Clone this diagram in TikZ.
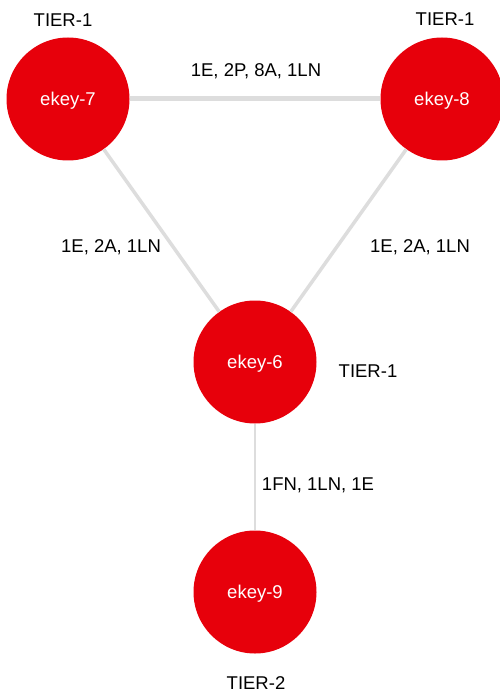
\documentclass[tikz,border=0pt]{standalone}
\usepackage{fontspec}
\setmainfont{Liberation Sans}
\definecolor{keyred}{RGB}{231,0,11}
\definecolor{linkgray}{RGB}{221,221,221}
\tikzset{
  ekey/.style={circle,fill=keyred,text=white,minimum size=123pt,inner sep=0pt,text depth=0pt},
  link/.style={draw=linkgray},
  txt/.style={anchor=base,inner sep=0pt}
}
\begin{document}
\begin{tikzpicture}[x=1pt,y=-1pt,font=\fontsize{18.5}{21}\selectfont]
  \useasboundingbox (0,0) rectangle (499,692);

  \node[ekey] (e7) at (68,99) {ekey-7};
  \node[ekey] (e8) at (442,99) {ekey-8};
  \node[ekey] (e6) at (255,362) {ekey-6};
  \node[ekey] (e9) at (255,592) {ekey-9};

  \draw[link,line width=5pt] (e7) -- (e8);
  \draw[link,line width=3.5pt] (e7) -- (e6);
  \draw[link,line width=3.5pt] (e8) -- (e6);
  \draw[link,line width=2pt] (e6) -- (e9);

  \node[txt] (t7) at (63,27) {TIER-1};
  \node[txt] (t8) at (445,26) {TIER-1};
  \node[txt] (t6) at (368,377) {TIER-1};
  \node[txt] (t9) at (256,689) {TIER-2};

  \node[txt] (l78) at (256,77) {1E, 2P, 8A, 1LN};
  \node[txt] (l76) at (111,252) {1E, 2A, 1LN};
  \node[txt] (l86) at (420,252) {1E, 2A, 1LN};
  \node[txt] (l69) at (318,490) {1FN, 1LN, 1E};
\end{tikzpicture}
\end{document}
